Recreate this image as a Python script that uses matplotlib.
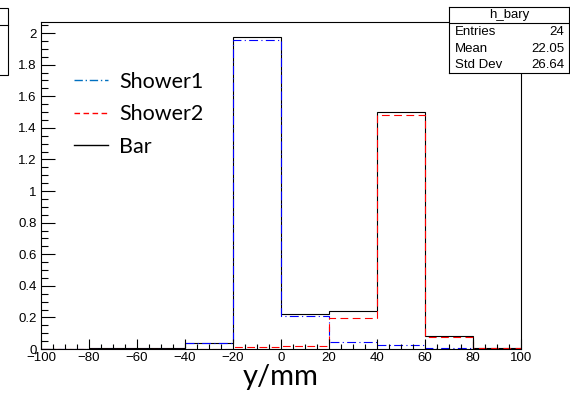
import matplotlib
matplotlib.use("Agg")
import matplotlib.pyplot as plt
from matplotlib.lines import Line2D
from matplotlib.patches import Rectangle
from matplotlib.ticker import MultipleLocator, FuncFormatter

# bin edges (mm) and contents
edges = [-100, -80, -60, -40, -20, 0, 20, 40, 60, 80, 100]
shower1 = [0.002, 0.003, 0.003, 0.035, 1.957, 0.207, 0.042, 0.028, 0.005, 0.001]
shower2 = [0.001, 0.001, 0.001, 0.002, 0.015, 0.021, 0.199, 1.480, 0.074, 0.008]
bar = [0.002, 0.004, 0.004, 0.040, 1.978, 0.224, 0.243, 1.501, 0.080, 0.008]

stats_title = "h_bary"
stats_rows = [("Entries", "24"), ("Mean", "22.05"), ("Std Dev", "26.64")]

plt.rcParams['font.family'] = ['Liberation Sans', 'DejaVu Sans']

fig = plt.figure(figsize=(5.70, 4.01), dpi=100)
ax = fig.add_axes([41 / 570, 1 - 349 / 401, 480 / 570, 327 / 401])

ax.stairs(bar, edges, color='black', lw=0.8, baseline=0)
ax.stairs(shower1, edges, color='blue', lw=0.8, baseline=0,
          linestyle=(0, (8, 3, 1, 3)))
ax.stairs(shower2, edges, color='red', lw=0.8, baseline=0,
          linestyle=(0, (7, 4)))

fmt = FuncFormatter(lambda v, p: f"{v:g}".replace('-', '\u2212'))
ax.set_xlim(-100, 100)
ax.set_ylim(0, 2.07)
ax.xaxis.set_major_locator(MultipleLocator(20))
ax.xaxis.set_minor_locator(MultipleLocator(5))
ax.yaxis.set_major_locator(MultipleLocator(0.2))
ax.yaxis.set_minor_locator(MultipleLocator(0.05))
ax.xaxis.set_major_formatter(fmt)
ax.yaxis.set_major_formatter(fmt)
ax.tick_params(axis='x', which='major', direction='in', length=7, width=0.8,
               labelsize=9.5, pad=2)
ax.tick_params(axis='x', which='minor', direction='in', length=3.5, width=0.8)
ax.tick_params(axis='y', which='major', direction='in', length=10, width=0.8,
               labelsize=9.5, pad=3)
ax.tick_params(axis='y', which='minor', direction='in', length=5, width=0.8)
for s in ax.spines.values():
    s.set_linewidth(0.8)

ax.set_xlabel("y/mm", fontsize=21, family=['Lato', 'DejaVu Sans'], labelpad=0)

handles = [Line2D([], [], color='#0070c0', lw=1, linestyle=(0, (6, 2, 1, 2))),
           Line2D([], [], color='red', lw=1, linestyle=(0, (4, 2.5))),
           Line2D([], [], color='black', lw=1)]
ax.legend(handles, ["Shower1", "Shower2", "Bar"], loc='upper left',
          bbox_to_anchor=(74 / 570, 1 - 72 / 401), bbox_transform=fig.transFigure,
          frameon=False, borderpad=0, borderaxespad=0, handlelength=1.6,
          handletextpad=0.5, labelspacing=0.58,
          prop={'family': ['Lato', 'DejaVu Sans'], 'size': 15.5})

# stats box
sax = fig.add_axes([449 / 570, 1 - 73 / 401, 120 / 570, 66 / 401])
sax.set_xticks([])
sax.set_yticks([])
sax.set_xlim(0, 1)
sax.set_ylim(0, 66)
for s in sax.spines.values():
    s.set_linewidth(0.8)
sax.axhline(50, color='black', lw=0.8)
sax.text(0.5, 58, stats_title, ha='center', va='center', fontsize=9.5)
for i, (k, v) in enumerate(stats_rows):
    y = 41 - i * 16.5
    sax.text(0.05, y, k, ha='left', va='center', fontsize=9.5)
    sax.text(0.96, y, v, ha='right', va='center', fontsize=9.5)

# partial box at the left edge
fig.patches.append(Rectangle((-0.01, 1 - 75 / 401), 0.024, 67 / 401,
                             transform=fig.transFigure, fill=False,
                             ec='black', lw=0.8))
fig.lines.append(Line2D([0, 8 / 570], [1 - 25 / 401, 1 - 25 / 401],
                        transform=fig.transFigure, color='black', lw=0.8))

fig.savefig("out.png", dpi=100)
